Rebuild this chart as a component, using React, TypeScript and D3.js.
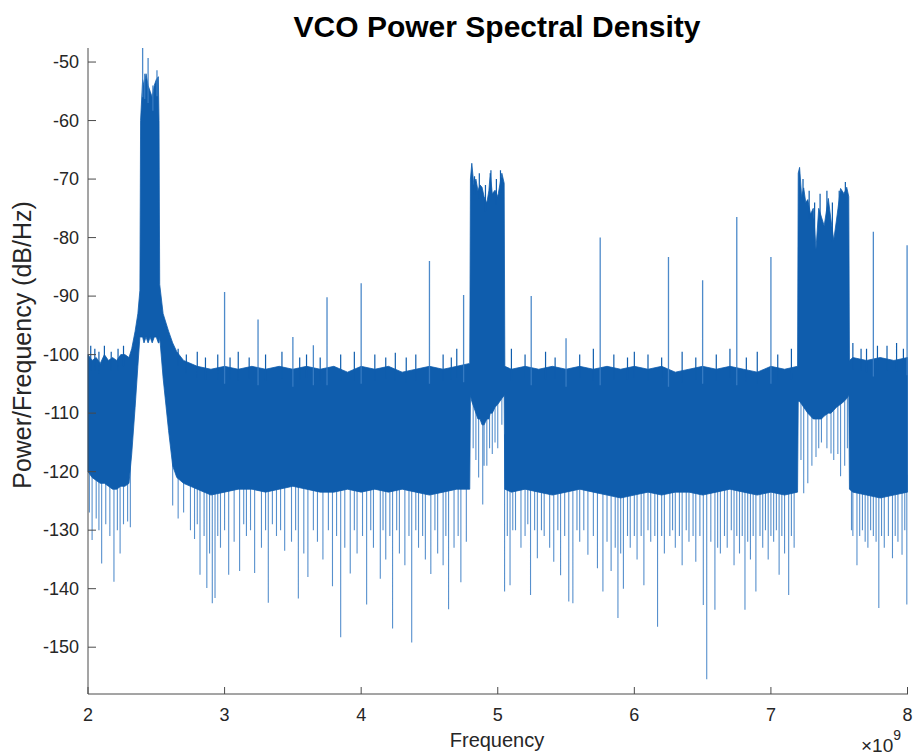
import React from "react";
import * as d3 from "d3";

const title = "VCO Power Spectral Density";
const xLabel = "Frequency";
const yLabel = "Power/Frequency (dB/Hz)";
const xTicks = [2, 3, 4, 5, 6, 7, 8];
const yTicks = [-50, -60, -70, -80, -90, -100, -110, -120, -130, -140, -150];

// Envelope of the dense PSD trace (frequency in GHz, dB/Hz)
const envFreq = [
  2.0, 2.03, 2.06, 2.09, 2.12, 2.15, 2.18, 2.21, 2.24, 2.27, 2.3,
  2.32, 2.345, 2.365, 2.38,
  2.385, 2.4, 2.41, 2.425, 2.44, 2.455, 2.47, 2.485, 2.5, 2.515, 2.52,
  2.525, 2.55, 2.59, 2.62, 2.65, 2.7,
  2.8, 2.9, 3.0, 3.1, 3.2, 3.3, 3.4, 3.5, 3.6, 3.7, 3.8, 3.9, 4.0, 4.1, 4.2, 4.3, 4.4, 4.5, 4.6, 4.7, 4.795,
  4.8, 4.81, 4.825, 4.84, 4.855, 4.87, 4.885, 4.9, 4.92, 4.935, 4.945, 4.96, 4.98, 5.0, 5.015, 5.03, 5.047,
  5.052, 5.1, 5.2, 5.3, 5.4, 5.5, 5.6, 5.7, 5.8, 5.9, 6.0, 6.1, 6.2, 6.3, 6.4, 6.5, 6.6, 6.7, 6.8, 6.9, 7.0, 7.1, 7.195,
  7.2, 7.21, 7.225, 7.24, 7.255, 7.27, 7.29, 7.31, 7.33, 7.35, 7.37, 7.39, 7.42, 7.44, 7.46, 7.48, 7.51, 7.535, 7.555, 7.57,
  7.575, 7.6, 7.7, 7.8, 7.9, 8.0,
];
const envTop = [
  -100, -101, -100.5, -101.5, -100, -101, -100.5, -101, -100, -100, -100.5,
  -99, -96, -93, -89,
  -60, -53, -54, -52, -54, -55, -56, -54, -53, -52.5, -60,
  -88, -93, -96, -98, -99.5, -101,
  -102, -102.5, -102, -102.5, -102, -102.5, -102, -102.5, -102, -102.5, -102, -103, -102, -102.5, -102, -103, -102.5, -102, -102.5, -102, -101.5,
  -70, -67.3, -71, -70, -72, -71, -71.4, -73, -74.1, -72, -69, -72.5, -71.9, -73, -71, -69, -70.7,
  -102, -102.5, -102, -102.5, -102, -102.5, -102, -102.5, -102, -102.5, -102, -102.5, -102, -103, -102.5, -102, -102.5, -102, -102.5, -103, -102, -102.5, -102,
  -69, -68, -73, -71.5, -74, -73.5, -76, -75, -82, -75, -76.5, -78, -73.3, -77, -80.4, -77, -71.6, -72.5, -71.4, -73,
  -101, -100.5, -101, -100.5, -101, -100.5,
];
const envBottom = [
  -120, -121, -121.5, -122, -122, -122.5, -123, -123, -122.5, -122.5, -122,
  -117, -109, -102, -97,
  -97, -97, -98, -97, -98, -97, -98, -97, -97, -98, -98,
  -97, -104, -113, -119, -121, -122,
  -123, -124, -123.5, -123, -123, -123.5, -123, -122.5, -123, -123.5, -123.5, -123, -123.5, -123, -123.5, -123, -123.5, -124, -123.5, -123, -123,
  -107, -108, -109, -110, -111, -111, -112, -112, -111, -111, -110, -110, -109, -108.5, -108, -107.5, -107,
  -123, -123.5, -123, -123.5, -124, -123.5, -123, -123.5, -124, -124.5, -124, -123.5, -124, -123.5, -123.5, -124, -123.5, -123, -123.5, -124, -123.5, -124, -123.5,
  -108, -108, -108.5, -109, -109.5, -110, -110.5, -111, -111, -111, -111, -110.5, -110, -110, -109.5, -109, -108.5, -108, -107.5, -107,
  -123, -123.5, -124, -124.5, -124, -123.5,
];

// Tall spurs rising above the floor [GHz, dB/Hz]
const upSpurs: [number, number][] = [
  [2.4, -47.6], [2.415, -52], [2.44, -49.3], [2.475, -54], [2.505, -51.4],
  [3.0, -89.3], [3.245, -94], [3.5, -97], [3.65, -98.4], [3.75, -90.2], [4.0, -87.8],
  [4.5, -84], [4.75, -89.8], [5.245, -90], [5.5, -97.2], [5.75, -80], [6.25, -83.3],
  [6.5, -87.3], [6.75, -76.5], [7.0, -83.3], [7.75, -79], [7.997, -81.3],
];

// Small jags on the top edge of the noise floor and the bands
const topJags: [number, number][] = [
  [2.02, -98.5], [2.05, -99], [2.08, -99.5], [2.12, -98.5], [2.17, -99.5], [2.22, -99], [2.26, -98.5],
  [2.66, -99], [2.72, -100], [2.8, -99.5], [2.86, -100.5], [2.95, -100], [3.04, -100.5], [3.1, -99.5],
  [3.18, -100.5], [3.3, -100], [3.42, -99.5], [3.55, -100.5], [3.6, -100], [3.7, -100.5], [3.85, -100],
  [3.95, -99.5], [4.1, -100], [4.18, -100.5], [4.25, -99.7], [4.33, -100.5], [4.4, -100], [4.6, -100],
  [4.66, -100.5], [4.7, -99], [5.1, -99], [5.2, -100], [5.35, -99.5], [5.42, -100.5], [5.6, -100],
  [5.7, -99], [5.85, -100], [5.95, -100.5], [6.0, -99.5], [6.1, -100], [6.2, -100.5], [6.35, -99.5],
  [6.45, -100.5], [6.6, -100], [6.7, -99], [6.82, -100.5], [6.9, -99.5], [7.05, -100], [7.15, -99],
  [7.6, -98], [7.66, -99], [7.7, -99], [7.78, -98.5], [7.85, -98.5], [7.92, -98], [7.97, -99],
  [4.83, -69.5], [4.865, -69], [4.91, -71], [4.95, -68.5], [4.99, -70], [5.02, -68.5],
  [7.235, -70], [7.28, -72], [7.32, -74], [7.36, -72.5], [7.41, -72], [7.45, -74], [7.5, -72], [7.545, -70.5],
];

// Downward excursions below the dense floor
const downSpikes: [number, number][] = [
  [2.01, -127], [2.03, -131.7], [2.06, -128], [2.08, -130], [2.1, -135.7], [2.13, -129], [2.16, -131],
  [2.19, -138.8], [2.215, -130], [2.235, -134], [2.26, -129], [2.29, -128.5], [2.31, -129.5],
  [2.62, -125.8], [2.66, -128], [2.7, -127], [2.75, -130], [2.78, -131.5], [2.8, -129], [2.82, -137.6],
  [2.85, -131], [2.87, -139.9], [2.89, -134], [2.91, -142.5], [2.93, -141.6], [2.95, -131], [2.97, -133],
  [3.0, -130], [3.03, -137.6], [3.07, -132], [3.11, -137], [3.14, -129], [3.16, -131], [3.19, -130],
  [3.22, -137.3], [3.27, -133], [3.3, -130], [3.32, -142.4], [3.35, -129], [3.38, -131], [3.41, -130],
  [3.44, -133.5], [3.49, -132], [3.52, -130], [3.54, -141.7], [3.58, -134], [3.61, -138], [3.65, -130],
  [3.68, -132], [3.72, -135], [3.76, -130], [3.79, -139.6], [3.82, -131], [3.85, -148.3], [3.88, -133],
  [3.92, -137.4], [3.95, -130], [3.97, -134], [4.01, -131], [4.04, -142.7], [4.07, -130], [4.09, -133],
  [4.14, -138.3], [4.16, -130], [4.18, -135], [4.21, -131], [4.23, -146.8], [4.26, -130], [4.28, -134],
  [4.32, -136], [4.35, -131], [4.37, -149.2], [4.4, -130], [4.42, -133], [4.45, -131], [4.47, -135],
  [4.51, -137.5], [4.54, -130], [4.56, -134], [4.6, -136], [4.62, -131], [4.64, -143.5], [4.68, -133],
  [4.71, -131], [4.73, -138.9], [4.77, -132],
  [4.82, -116], [4.84, -118], [4.86, -121], [4.89, -125.6], [4.9, -119], [4.92, -119], [4.94, -116],
  [4.96, -117], [4.98, -115], [5.0, -116], [5.03, -112],
  [5.05, -140.5], [5.07, -131], [5.09, -139.4], [5.11, -130], [5.13, -130], [5.17, -133], [5.2, -131],
  [5.22, -129], [5.24, -141.1], [5.27, -130], [5.29, -134.8], [5.32, -130], [5.34, -131], [5.38, -133],
  [5.41, -135.4], [5.44, -130], [5.46, -137.7], [5.49, -131], [5.52, -142.2], [5.55, -142.5], [5.58, -130],
  [5.6, -132], [5.63, -130], [5.66, -134.2], [5.7, -131], [5.73, -136.5], [5.77, -140.5], [5.8, -132],
  [5.83, -137], [5.86, -133], [5.88, -145], [5.9, -134], [5.92, -140], [5.95, -131], [5.97, -133],
  [6.0, -131], [6.02, -135], [6.05, -131], [6.07, -139.4], [6.1, -130], [6.12, -132], [6.15, -131],
  [6.17, -146.5], [6.2, -131], [6.22, -134], [6.26, -131], [6.28, -130], [6.3, -133], [6.33, -131],
  [6.35, -136], [6.38, -130], [6.4, -132], [6.43, -131], [6.45, -135.4], [6.48, -131], [6.505, -142.8],
  [6.53, -155.5], [6.56, -132], [6.59, -143.6], [6.61, -133], [6.63, -134], [6.66, -131], [6.68, -133],
  [6.71, -130], [6.73, -136], [6.75, -131], [6.77, -134], [6.79, -131], [6.81, -143.6], [6.83, -132],
  [6.85, -135], [6.87, -131], [6.89, -140.5], [6.92, -131], [6.94, -133], [6.96, -130], [6.98, -135],
  [7.0, -131], [7.02, -132], [7.04, -130], [7.06, -137.6], [7.08, -131], [7.1, -134], [7.13, -141.1],
  [7.15, -131], [7.17, -133],
  [7.22, -118], [7.24, -123.7], [7.27, -122], [7.3, -119], [7.33, -117.5], [7.35, -116], [7.37, -115],
  [7.41, -116], [7.44, -116.9], [7.46, -118], [7.49, -117], [7.51, -120.8], [7.54, -119], [7.56, -116],
  [7.59, -130], [7.6, -131], [7.63, -136], [7.65, -131], [7.67, -130], [7.69, -132], [7.71, -133],
  [7.73, -130], [7.75, -131], [7.77, -132], [7.79, -143.3], [7.81, -131], [7.83, -133], [7.86, -131],
  [7.89, -134.8], [7.91, -131], [7.93, -132], [7.96, -134.2], [7.98, -130], [7.995, -142.7],
];

const W = 913;
const H = 756;
const left = 88;
const right = 907.5;
const top = 48;
const bottom = 694;
const lineColor = "#0f5dad";
const spikeColor = "#3a7dc4";
const axisColor = "#4a4a4a";
const textColor = "#262626";
const font = "'Liberation Sans', Arial, Helvetica, sans-serif";

export default function App() {
  const x = d3.scaleLinear().domain([2, 8]).range([left, right]);
  const y = d3.scaleLinear().domain([-158, -47.6]).range([bottom, top]);

  const rows = envFreq.map((f, i) => ({ f, t: envTop[i], b: envBottom[i] }));
  const area = d3
    .area<{ f: number; t: number; b: number }>()
    .x((d) => x(d.f))
    .y0((d) => y(d.b))
    .y1((d) => y(d.t))
    .curve(d3.curveLinear);

  const bottomAt = d3.scaleLinear().domain(envFreq).range(envBottom);
  const topAt = d3.scaleLinear().domain(envFreq).range(envTop);

  const seg = (f: number, v0: number, v1: number) =>
    `M${x(f)},${y(v0)}L${x(f)},${y(v1)}`;

  const downPath = downSpikes.map(([f, v]) => seg(f, bottomAt(f) + 3, v)).join("");
  const upPath = upSpurs.map(([f, v]) => seg(f, topAt(f) - 3, v)).join("");
  const jagPath = topJags.map(([f, v]) => seg(f, topAt(f) - 2, v)).join("");

  return (
    <svg
      width={W}
      height={H}
      style={{ position: "absolute", left: 0, top: 0, background: "#fff" }}
      fontFamily={font}
    >
      <rect x={0} y={0} width={W} height={H} fill="#fff" />
      <path d={downPath} stroke={spikeColor} strokeWidth={1.1} strokeOpacity={0.85} fill="none" />
      <path d={area(rows) || ""} fill={lineColor} stroke={lineColor} strokeWidth={0.8} />
      <path d={jagPath} stroke={lineColor} strokeWidth={1.2} fill="none" />
      <path d={upPath} stroke={spikeColor} strokeWidth={1.3} strokeOpacity={0.9} fill="none" />

      {/* axes */}
      <line x1={left} y1={top} x2={left} y2={bottom} stroke={axisColor} strokeWidth={1} />
      <line x1={left} y1={bottom} x2={right + 0.5} y2={bottom} stroke={axisColor} strokeWidth={1} />
      {yTicks.map((t) => (
        <g key={"y" + t}>
          <line x1={left} x2={left + 8} y1={y(t)} y2={y(t)} stroke={axisColor} />
          <text
            x={left - 9}
            y={y(t)}
            dy="0.35em"
            textAnchor="end"
            fontSize={18}
            fill={textColor}
          >
            {t}
          </text>
        </g>
      ))}
      {xTicks.map((t) => (
        <g key={"x" + t}>
          <line x1={x(t)} x2={x(t)} y1={bottom} y2={bottom - 7} stroke={axisColor} />
          <text x={x(t)} y={721} textAnchor="middle" fontSize={18} fill={textColor}>
            {t}
          </text>
        </g>
      ))}

      <text x={497} y={37} textAnchor="middle" fontSize={30} fontWeight="bold" fill="#000">
        {title}
      </text>
      <text x={497} y={747} textAnchor="middle" fontSize={20} fill={textColor}>
        {xLabel}
      </text>
      <text
        transform="translate(31,345) rotate(-90)"
        textAnchor="middle"
        fontSize={25}
        fill={textColor}
      >
        {yLabel}
      </text>
      <text x={861} y={752} fontSize={19} fill={textColor}>
        {"\u00d710"}
        <tspan dy={-12} fontSize={14}>
          9
        </tspan>
      </text>
    </svg>
  );
}
